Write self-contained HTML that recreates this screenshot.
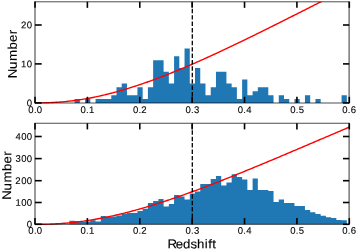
<!DOCTYPE html>
<html><head><meta charset="utf-8"><style>
html,body{margin:0;padding:0;background:#fff;}
body{width:357px;height:250px;overflow:hidden;}
svg{display:block;will-change:transform;}
text{font-family:"Liberation Sans",sans-serif;}
</style></head><body>
<svg width="357" height="250" viewBox="0 0 357 250">
<rect width="357" height="250" fill="#fff"/>
<defs><clipPath id="c1"><rect x="35.0" y="1.75" width="314.30" height="102.05"/></clipPath></defs>
<g clip-path="url(#c1)">
<path d="M74.61,103.00V99.02H79.84V103.00ZM85.08,103.00V99.02H90.31V103.00ZM95.55,103.00V99.02H100.78V103.00ZM100.78,103.00V99.02H106.02V103.00ZM106.02,103.00V99.02H111.25V103.00ZM111.25,103.00V95.13H116.49V103.00ZM116.49,103.00V87.37H121.72V103.00ZM121.72,103.00V83.49H126.96V103.00ZM126.96,103.00V95.13H132.19V103.00ZM132.19,103.00V95.13H137.43V103.00ZM137.43,103.00V87.37H142.66V103.00ZM142.66,103.00V99.02H147.90V103.00ZM147.90,103.00V87.37H153.13V103.00ZM153.13,103.00V60.19H158.37V103.00ZM158.37,103.00V60.19H163.60V103.00ZM163.60,103.00V71.84H168.84V103.00ZM168.84,103.00V83.49H174.07V103.00ZM174.07,103.00V56.30H179.31V103.00ZM179.31,103.00V67.95H184.54V103.00ZM184.54,103.00V48.54H189.78V103.00ZM189.78,103.00V83.49H195.01V103.00ZM195.01,103.00V67.95H200.25V103.00ZM200.25,103.00V83.49H205.48V103.00ZM205.48,103.00V95.13H210.72V103.00ZM210.72,103.00V87.37H215.95V103.00ZM215.95,103.00V71.84H221.19V103.00ZM221.19,103.00V71.84H226.42V103.00ZM226.42,103.00V83.49H231.66V103.00ZM231.66,103.00V87.37H236.89V103.00ZM236.89,103.00V99.02H242.13V103.00ZM242.13,103.00V79.60H247.36V103.00ZM247.36,103.00V95.13H252.60V103.00ZM252.60,103.00V91.25H257.83V103.00ZM257.83,103.00V87.37H263.07V103.00ZM263.07,103.00V87.37H268.30V103.00ZM268.30,103.00V95.13H273.54V103.00ZM278.77,103.00V95.13H284.00V103.00ZM284.00,103.00V99.02H289.24V103.00ZM294.48,103.00V99.02H299.71V103.00ZM304.95,103.00V95.13H310.18V103.00ZM315.42,103.00V99.02H320.65V103.00ZM341.59,103.00V95.13H346.83V103.00Z" fill="#1f77b4"/>
<path d="M35.00,102.90 L36.32,102.90 L37.63,102.90 L38.95,102.89 L40.26,102.88 L41.58,102.86 L42.89,102.84 L44.21,102.81 L45.52,102.78 L46.84,102.75 L48.15,102.70 L49.47,102.66 L50.78,102.60 L52.10,102.54 L53.41,102.47 L54.73,102.40 L56.04,102.32 L57.36,102.23 L58.67,102.14 L59.99,102.04 L61.30,101.94 L62.62,101.83 L63.93,101.71 L65.25,101.58 L66.56,101.45 L67.88,101.31 L69.19,101.17 L70.51,101.02 L71.82,100.86 L73.14,100.69 L74.45,100.52 L75.77,100.34 L77.08,100.16 L78.40,99.97 L79.71,99.77 L81.03,99.57 L82.34,99.36 L83.66,99.14 L84.97,98.92 L86.29,98.69 L87.60,98.46 L88.92,98.21 L90.23,97.97 L91.55,97.71 L92.86,97.45 L94.18,97.19 L95.49,96.92 L96.81,96.64 L98.12,96.36 L99.44,96.07 L100.75,95.77 L102.07,95.47 L103.38,95.17 L104.70,94.86 L106.01,94.54 L107.33,94.22 L108.64,93.89 L109.96,93.55 L111.27,93.22 L112.59,92.87 L113.90,92.52 L115.22,92.17 L116.53,91.81 L117.85,91.44 L119.16,91.07 L120.48,90.70 L121.79,90.32 L123.11,89.93 L124.42,89.54 L125.74,89.15 L127.05,88.75 L128.37,88.35 L129.68,87.94 L131.00,87.53 L132.31,87.11 L133.63,86.69 L134.94,86.26 L136.26,85.83 L137.57,85.40 L138.89,84.96 L140.21,84.51 L141.52,84.07 L142.84,83.62 L144.15,83.16 L145.47,82.70 L146.78,82.24 L148.10,81.77 L149.41,81.30 L150.73,80.83 L152.04,80.35 L153.36,79.87 L154.67,79.38 L155.99,78.89 L157.30,78.40 L158.62,77.90 L159.93,77.40 L161.25,76.90 L162.56,76.39 L163.88,75.88 L165.19,75.37 L166.51,74.85 L167.82,74.33 L169.14,73.81 L170.45,73.29 L171.77,72.76 L173.08,72.23 L174.40,71.69 L175.71,71.15 L177.03,70.61 L178.34,70.07 L179.66,69.53 L180.97,68.98 L182.29,68.43 L183.60,67.87 L184.92,67.32 L186.23,66.76 L187.55,66.19 L188.86,65.63 L190.18,65.06 L191.49,64.49 L192.81,63.92 L194.12,63.35 L195.44,62.77 L196.75,62.20 L198.07,61.62 L199.38,61.03 L200.70,60.45 L202.01,59.86 L203.33,59.27 L204.64,58.68 L205.96,58.09 L207.27,57.49 L208.59,56.90 L209.90,56.30 L211.22,55.70 L212.53,55.09 L213.85,54.49 L215.16,53.88 L216.48,53.28 L217.79,52.67 L219.11,52.05 L220.42,51.44 L221.74,50.83 L223.05,50.21 L224.37,49.59 L225.68,48.97 L227.00,48.35 L228.31,47.73 L229.63,47.11 L230.94,46.48 L232.26,45.86 L233.57,45.23 L234.89,44.60 L236.20,43.97 L237.52,43.34 L238.83,42.71 L240.15,42.07 L241.46,41.44 L242.78,40.80 L244.09,40.16 L245.41,39.53 L246.73,38.89 L248.04,38.24 L249.36,37.60 L250.67,36.96 L251.99,36.32 L253.30,35.67 L254.62,35.03 L255.93,34.38 L257.25,33.73 L258.56,33.08 L259.88,32.44 L261.19,31.79 L262.51,31.14 L263.82,30.48 L265.14,29.83 L266.45,29.18 L267.77,28.53 L269.08,27.87 L270.40,27.22 L271.71,26.56 L273.03,25.90 L274.34,25.25 L275.66,24.59 L276.97,23.93 L278.29,23.27 L279.60,22.61 L280.92,21.95 L282.23,21.29 L283.55,20.63 L284.86,19.97 L286.18,19.31 L287.49,18.65 L288.81,17.99 L290.12,17.33 L291.44,16.66 L292.75,16.00 L294.07,15.34 L295.38,14.67 L296.70,14.01 L298.01,13.34 L299.33,12.68 L300.64,12.01 L301.96,11.35 L303.27,10.68 L304.59,10.02 L305.90,9.35 L307.22,8.69 L308.53,8.02 L309.85,7.35 L311.16,6.69 L312.48,6.02 L313.79,5.35 L315.11,4.69 L316.42,4.02 L317.74,3.35 L319.05,2.69 L320.37,2.02 L321.68,1.35 L323.00,0.69 L324.31,0.02 L325.63,-0.65 L326.94,-1.31 L328.26,-1.98 L329.57,-2.65 L330.89,-3.31 L332.20,-3.98 L333.52,-4.65 L334.83,-5.31 L336.15,-5.98 L337.46,-6.64 L338.78,-7.31 L340.09,-7.97 L341.41,-8.64 L342.72,-9.31 L344.04,-9.97 L345.35,-10.64 L346.67,-11.30 L347.98,-11.96 L349.30,-12.63" fill="none" stroke="#ff0000" stroke-width="1.4" stroke-linejoin="round"/>
<line x1="192.30" y1="1.75" x2="192.30" y2="103.0" stroke="#000" stroke-width="1.3" stroke-dasharray="4.43,1.97" stroke-dashoffset="-0.6"/>
</g>
<path d="M34.60,1.8H349.50M34.60,103.0H349.50" stroke="#000" stroke-width="0.7" fill="none"/>
<path d="M35.0,1.45V103.35M349.1,1.45V103.35" stroke="#000" stroke-width="0.8" fill="none"/>
<line x1="35.00" y1="103.0" x2="35.00" y2="96.8" stroke="#000" stroke-width="1.6"/>
<line x1="35.00" y1="1.75" x2="35.00" y2="7.85" stroke="#000" stroke-width="1.6"/>
<line x1="87.38" y1="103.0" x2="87.38" y2="96.8" stroke="#000" stroke-width="1.6"/>
<line x1="87.38" y1="1.75" x2="87.38" y2="7.85" stroke="#000" stroke-width="1.6"/>
<line x1="139.77" y1="103.0" x2="139.77" y2="96.8" stroke="#000" stroke-width="1.6"/>
<line x1="139.77" y1="1.75" x2="139.77" y2="7.85" stroke="#000" stroke-width="1.6"/>
<line x1="192.15" y1="103.0" x2="192.15" y2="96.8" stroke="#000" stroke-width="1.6"/>
<line x1="192.15" y1="1.75" x2="192.15" y2="7.85" stroke="#000" stroke-width="1.6"/>
<line x1="244.53" y1="103.0" x2="244.53" y2="96.8" stroke="#000" stroke-width="1.6"/>
<line x1="244.53" y1="1.75" x2="244.53" y2="7.85" stroke="#000" stroke-width="1.6"/>
<line x1="296.92" y1="103.0" x2="296.92" y2="96.8" stroke="#000" stroke-width="1.6"/>
<line x1="296.92" y1="1.75" x2="296.92" y2="7.85" stroke="#000" stroke-width="1.6"/>
<line x1="349.30" y1="103.0" x2="349.30" y2="96.8" stroke="#000" stroke-width="1.6"/>
<line x1="349.30" y1="1.75" x2="349.30" y2="7.85" stroke="#000" stroke-width="1.6"/>
<line x1="35.0" y1="102.90" x2="41.7" y2="102.90" stroke="#000" stroke-width="1.6"/>
<line x1="349.20" y1="102.90" x2="343.00" y2="102.90" stroke="#000" stroke-width="1.6"/>
<line x1="35.0" y1="63.90" x2="41.7" y2="63.90" stroke="#000" stroke-width="1.6"/>
<line x1="349.20" y1="63.90" x2="343.00" y2="63.90" stroke="#000" stroke-width="1.6"/>
<line x1="35.0" y1="25.00" x2="41.7" y2="25.00" stroke="#000" stroke-width="1.6"/>
<line x1="349.20" y1="25.00" x2="343.00" y2="25.00" stroke="#000" stroke-width="1.6"/>
<defs><clipPath id="c2"><rect x="35.0" y="123.3" width="314.30" height="101.80"/></clipPath></defs>
<g clip-path="url(#c2)">
<path d="M69.37,224.30V220.80H74.61V224.30ZM74.61,224.30V221.00H79.84V224.30ZM79.84,224.30V222.00H85.08V224.30ZM85.08,224.30V221.50H90.31V224.30ZM90.31,224.30V220.30H95.55V224.30ZM95.55,224.30V221.40H100.78V224.30ZM100.78,224.30V216.00H106.02V224.30ZM106.02,224.30V216.80H111.25V224.30ZM111.25,224.30V216.40H116.49V224.30ZM116.49,224.30V215.50H121.72V224.30ZM121.72,224.30V213.80H126.96V224.30ZM126.96,224.30V213.00H132.19V224.30ZM132.19,224.30V213.00H137.43V224.30ZM137.43,224.30V211.00H142.66V224.30ZM142.66,224.30V208.70H147.90V224.30ZM147.90,224.30V203.00H153.13V224.30ZM153.13,224.30V201.00H158.37V224.30ZM158.37,224.30V199.00H163.60V224.30ZM163.60,224.30V206.50H168.84V224.30ZM168.84,224.30V204.00H174.07V224.30ZM174.07,224.30V195.00H179.31V224.30ZM179.31,224.30V196.50H184.54V224.30ZM184.54,224.30V199.50H189.78V224.30ZM189.78,224.30V193.60H195.01V224.30ZM195.01,224.30V191.50H200.25V224.30ZM200.25,224.30V184.00H205.48V224.30ZM205.48,224.30V184.00H210.72V224.30ZM210.72,224.30V179.00H215.95V224.30ZM215.95,224.30V176.00H221.19V224.30ZM221.19,224.30V185.50H226.42V224.30ZM226.42,224.30V182.50H231.66V224.30ZM231.66,224.30V174.20H236.89V224.30ZM236.89,224.30V177.00H242.13V224.30ZM242.13,224.30V179.50H247.36V224.30ZM247.36,224.30V190.00H252.60V224.30ZM252.60,224.30V178.50H257.83V224.30ZM257.83,224.30V190.00H263.07V224.30ZM263.07,224.30V190.00H268.30V224.30ZM268.30,224.30V191.00H273.54V224.30ZM273.54,224.30V202.00H278.77V224.30ZM278.77,224.30V199.50H284.00V224.30ZM284.00,224.30V203.00H289.24V224.30ZM289.24,224.30V203.00H294.48V224.30ZM294.48,224.30V206.00H299.71V224.30ZM299.71,224.30V206.00H304.95V224.30ZM304.95,224.30V210.00H310.18V224.30ZM310.18,224.30V212.20H315.42V224.30ZM315.42,224.30V214.00H320.65V224.30ZM320.65,224.30V215.80H325.89V224.30ZM325.89,224.30V217.20H331.12V224.30ZM331.12,224.30V218.00H336.36V224.30ZM336.36,224.30V220.00H341.59V224.30ZM341.59,224.30V220.20H346.83V224.30Z" fill="#1f77b4"/>
<path d="M35.00,224.30 L36.32,224.30 L37.63,224.30 L38.95,224.29 L40.26,224.28 L41.58,224.27 L42.89,224.25 L44.21,224.23 L45.52,224.20 L46.84,224.17 L48.15,224.14 L49.47,224.09 L50.78,224.05 L52.10,224.00 L53.41,223.94 L54.73,223.88 L56.04,223.81 L57.36,223.74 L58.67,223.66 L59.99,223.58 L61.30,223.49 L62.62,223.40 L63.93,223.30 L65.25,223.19 L66.56,223.08 L67.88,222.96 L69.19,222.84 L70.51,222.71 L71.82,222.58 L73.14,222.44 L74.45,222.30 L75.77,222.15 L77.08,221.99 L78.40,221.83 L79.71,221.67 L81.03,221.50 L82.34,221.32 L83.66,221.14 L84.97,220.95 L86.29,220.76 L87.60,220.56 L88.92,220.36 L90.23,220.15 L91.55,219.94 L92.86,219.72 L94.18,219.50 L95.49,219.27 L96.81,219.04 L98.12,218.80 L99.44,218.55 L100.75,218.31 L102.07,218.05 L103.38,217.80 L104.70,217.53 L106.01,217.27 L107.33,217.00 L108.64,216.72 L109.96,216.44 L111.27,216.15 L112.59,215.86 L113.90,215.57 L115.22,215.27 L116.53,214.97 L117.85,214.66 L119.16,214.35 L120.48,214.04 L121.79,213.72 L123.11,213.39 L124.42,213.07 L125.74,212.73 L127.05,212.40 L128.37,212.06 L129.68,211.72 L131.00,211.37 L132.31,211.02 L133.63,210.66 L134.94,210.31 L136.26,209.94 L137.57,209.58 L138.89,209.21 L140.21,208.84 L141.52,208.46 L142.84,208.08 L144.15,207.70 L145.47,207.31 L146.78,206.92 L148.10,206.53 L149.41,206.13 L150.73,205.73 L152.04,205.33 L153.36,204.93 L154.67,204.52 L155.99,204.11 L157.30,203.69 L158.62,203.27 L159.93,202.85 L161.25,202.43 L162.56,202.00 L163.88,201.58 L165.19,201.14 L166.51,200.71 L167.82,200.27 L169.14,199.83 L170.45,199.39 L171.77,198.95 L173.08,198.50 L174.40,198.05 L175.71,197.60 L177.03,197.14 L178.34,196.69 L179.66,196.23 L180.97,195.77 L182.29,195.30 L183.60,194.84 L184.92,194.37 L186.23,193.90 L187.55,193.43 L188.86,192.95 L190.18,192.48 L191.49,192.00 L192.81,191.52 L194.12,191.03 L195.44,190.55 L196.75,190.06 L198.07,189.58 L199.38,189.08 L200.70,188.59 L202.01,188.10 L203.33,187.60 L204.64,187.11 L205.96,186.61 L207.27,186.11 L208.59,185.61 L209.90,185.10 L211.22,184.60 L212.53,184.09 L213.85,183.58 L215.16,183.07 L216.48,182.56 L217.79,182.05 L219.11,181.53 L220.42,181.02 L221.74,180.50 L223.05,179.98 L224.37,179.46 L225.68,178.94 L227.00,178.42 L228.31,177.90 L229.63,177.37 L230.94,176.85 L232.26,176.32 L233.57,175.79 L234.89,175.26 L236.20,174.73 L237.52,174.20 L238.83,173.67 L240.15,173.14 L241.46,172.60 L242.78,172.07 L244.09,171.53 L245.41,171.00 L246.73,170.46 L248.04,169.92 L249.36,169.38 L250.67,168.84 L251.99,168.30 L253.30,167.75 L254.62,167.21 L255.93,166.67 L257.25,166.12 L258.56,165.58 L259.88,165.03 L261.19,164.49 L262.51,163.94 L263.82,163.39 L265.14,162.84 L266.45,162.29 L267.77,161.74 L269.08,161.19 L270.40,160.64 L271.71,160.09 L273.03,159.54 L274.34,158.99 L275.66,158.43 L276.97,157.88 L278.29,157.33 L279.60,156.77 L280.92,156.22 L282.23,155.66 L283.55,155.11 L284.86,154.55 L286.18,153.99 L287.49,153.44 L288.81,152.88 L290.12,152.32 L291.44,151.77 L292.75,151.21 L294.07,150.65 L295.38,150.09 L296.70,149.53 L298.01,148.97 L299.33,148.41 L300.64,147.86 L301.96,147.30 L303.27,146.74 L304.59,146.18 L305.90,145.62 L307.22,145.06 L308.53,144.50 L309.85,143.94 L311.16,143.38 L312.48,142.81 L313.79,142.25 L315.11,141.69 L316.42,141.13 L317.74,140.57 L319.05,140.01 L320.37,139.45 L321.68,138.89 L323.00,138.33 L324.31,137.77 L325.63,137.21 L326.94,136.65 L328.26,136.09 L329.57,135.52 L330.89,134.96 L332.20,134.40 L333.52,133.84 L334.83,133.28 L336.15,132.72 L337.46,132.16 L338.78,131.60 L340.09,131.04 L341.41,130.48 L342.72,129.92 L344.04,129.36 L345.35,128.80 L346.67,128.25 L347.98,127.69 L349.30,127.13" fill="none" stroke="#ff0000" stroke-width="1.4" stroke-linejoin="round"/>
<line x1="192.30" y1="123.3" x2="192.30" y2="224.3" stroke="#000" stroke-width="1.3" stroke-dasharray="4.43,1.97" stroke-dashoffset="-0.6"/>
</g>
<path d="M34.60,123.25H349.50M34.60,224.3H349.50" stroke="#000" stroke-width="0.7" fill="none"/>
<path d="M35.0,122.90V224.65M349.1,122.90V224.65" stroke="#000" stroke-width="0.8" fill="none"/>
<line x1="35.00" y1="224.3" x2="35.00" y2="218.10000000000002" stroke="#000" stroke-width="1.6"/>
<line x1="35.00" y1="123.3" x2="35.00" y2="129.4" stroke="#000" stroke-width="1.6"/>
<line x1="87.38" y1="224.3" x2="87.38" y2="218.10000000000002" stroke="#000" stroke-width="1.6"/>
<line x1="87.38" y1="123.3" x2="87.38" y2="129.4" stroke="#000" stroke-width="1.6"/>
<line x1="139.77" y1="224.3" x2="139.77" y2="218.10000000000002" stroke="#000" stroke-width="1.6"/>
<line x1="139.77" y1="123.3" x2="139.77" y2="129.4" stroke="#000" stroke-width="1.6"/>
<line x1="192.15" y1="224.3" x2="192.15" y2="218.10000000000002" stroke="#000" stroke-width="1.6"/>
<line x1="192.15" y1="123.3" x2="192.15" y2="129.4" stroke="#000" stroke-width="1.6"/>
<line x1="244.53" y1="224.3" x2="244.53" y2="218.10000000000002" stroke="#000" stroke-width="1.6"/>
<line x1="244.53" y1="123.3" x2="244.53" y2="129.4" stroke="#000" stroke-width="1.6"/>
<line x1="296.92" y1="224.3" x2="296.92" y2="218.10000000000002" stroke="#000" stroke-width="1.6"/>
<line x1="296.92" y1="123.3" x2="296.92" y2="129.4" stroke="#000" stroke-width="1.6"/>
<line x1="349.30" y1="224.3" x2="349.30" y2="218.10000000000002" stroke="#000" stroke-width="1.6"/>
<line x1="349.30" y1="123.3" x2="349.30" y2="129.4" stroke="#000" stroke-width="1.6"/>
<line x1="35.0" y1="224.30" x2="41.7" y2="224.30" stroke="#000" stroke-width="1.6"/>
<line x1="349.20" y1="224.30" x2="343.00" y2="224.30" stroke="#000" stroke-width="1.6"/>
<line x1="35.0" y1="202.50" x2="41.7" y2="202.50" stroke="#000" stroke-width="1.6"/>
<line x1="349.20" y1="202.50" x2="343.00" y2="202.50" stroke="#000" stroke-width="1.6"/>
<line x1="35.0" y1="180.70" x2="41.7" y2="180.70" stroke="#000" stroke-width="1.6"/>
<line x1="349.20" y1="180.70" x2="343.00" y2="180.70" stroke="#000" stroke-width="1.6"/>
<line x1="35.0" y1="158.60" x2="41.7" y2="158.60" stroke="#000" stroke-width="1.6"/>
<line x1="349.20" y1="158.60" x2="343.00" y2="158.60" stroke="#000" stroke-width="1.6"/>
<line x1="35.0" y1="136.50" x2="41.7" y2="136.50" stroke="#000" stroke-width="1.6"/>
<line x1="349.20" y1="136.50" x2="343.00" y2="136.50" stroke="#000" stroke-width="1.6"/>
<g font-family="'Liberation Sans', sans-serif" fill="#000" text-rendering="geometricPrecision" stroke="#000" stroke-width="0.1">
<text transform="translate(28.13,112.9) rotate(0.3) scale(1.0,1)" x="0.19 5.75 8.68" y="0" font-size="9.5" >0.0</text>
<text transform="translate(28.13,233.8) rotate(0.3) scale(1.0,1)" x="0.19 5.75 8.68" y="0" font-size="9.5" >0.0</text>
<text transform="translate(80.34,112.9) rotate(0.3) scale(1.0,1)" x="0.19 5.75 8.63" y="0" font-size="9.5" >0.1</text>
<text transform="translate(80.34,233.8) rotate(0.3) scale(1.0,1)" x="0.19 5.75 8.63" y="0" font-size="9.5" >0.1</text>
<text transform="translate(132.78,112.9) rotate(0.3) scale(1.0,1)" x="0.19 5.75 8.56" y="0" font-size="9.5" >0.2</text>
<text transform="translate(132.78,233.8) rotate(0.3) scale(1.0,1)" x="0.19 5.75 8.56" y="0" font-size="9.5" >0.2</text>
<text transform="translate(185.19,112.9) rotate(0.3) scale(1.0,1)" x="0.19 5.75 8.69" y="0" font-size="9.5" >0.3</text>
<text transform="translate(185.19,233.8) rotate(0.3) scale(1.0,1)" x="0.19 5.75 8.69" y="0" font-size="9.5" >0.3</text>
<text transform="translate(237.48,112.9) rotate(0.3) scale(1.0,1)" x="0.19 5.75 8.68" y="0" font-size="9.5" >0.4</text>
<text transform="translate(237.48,233.8) rotate(0.3) scale(1.0,1)" x="0.19 5.75 8.68" y="0" font-size="9.5" >0.4</text>
<text transform="translate(290.02,112.9) rotate(0.3) scale(1.0,1)" x="0.19 5.75 8.64" y="0" font-size="9.5" >0.5</text>
<text transform="translate(290.02,233.8) rotate(0.3) scale(1.0,1)" x="0.19 5.75 8.64" y="0" font-size="9.5" >0.5</text>
<text transform="translate(342.01,112.9) rotate(0.3) scale(1.0,1)" x="0.19 5.75 8.68" y="0" font-size="9.5" >0.6</text>
<text transform="translate(342.01,233.8) rotate(0.3) scale(1.0,1)" x="0.19 5.75 8.68" y="0" font-size="9.5" >0.6</text>
<text transform="translate(26.63,106.14) rotate(0.3) scale(1.0,1)" x="0.19" y="0" font-size="9.5" >0</text>
<text transform="translate(20.97,67.14) rotate(0.3) scale(1.0,1)" x="0.14 5.85" y="0" font-size="9.5" >10</text>
<text transform="translate(20.97,28.24) rotate(0.3) scale(1.0,1)" x="0.07 5.85" y="0" font-size="9.5" >20</text>
<text transform="translate(26.63,227.54) rotate(0.3) scale(1.0,1)" x="0.19" y="0" font-size="9.5" >0</text>
<text transform="translate(15.30,205.74) rotate(0.3) scale(1.0,1)" x="0.14 5.85 11.51" y="0" font-size="9.5" >100</text>
<text transform="translate(15.30,183.94) rotate(0.3) scale(1.0,1)" x="0.07 5.85 11.51" y="0" font-size="9.5" >200</text>
<text transform="translate(15.30,161.84) rotate(0.3) scale(1.0,1)" x="0.20 5.85 11.51" y="0" font-size="9.5" >300</text>
<text transform="translate(15.30,139.74) rotate(0.3) scale(1.0,1)" x="0.19 5.85 11.51" y="0" font-size="9.5" >400</text>
<text transform="translate(16.7,77.98) rotate(-89.8) scale(1.05,1)" x="-0.27 8.65 16.15 27.12 34.22 41.67" y="0" font-size="12.58" stroke-width="0.12">Number</text>
<text transform="translate(11.1,199.48) rotate(-89.8) scale(1.05,1)" x="-0.27 8.65 16.15 27.12 34.22 41.67" y="0" font-size="12.58" stroke-width="0.12">Number</text>
<text transform="translate(167.82,248.2) rotate(0.2) scale(1.05,1)" x="-0.40 7.47 14.53 21.63 27.80 35.11 38.49 42.37" y="0" font-size="12.58" stroke-width="0.12">Redshift</text>
</g>
</svg>
</body></html>
